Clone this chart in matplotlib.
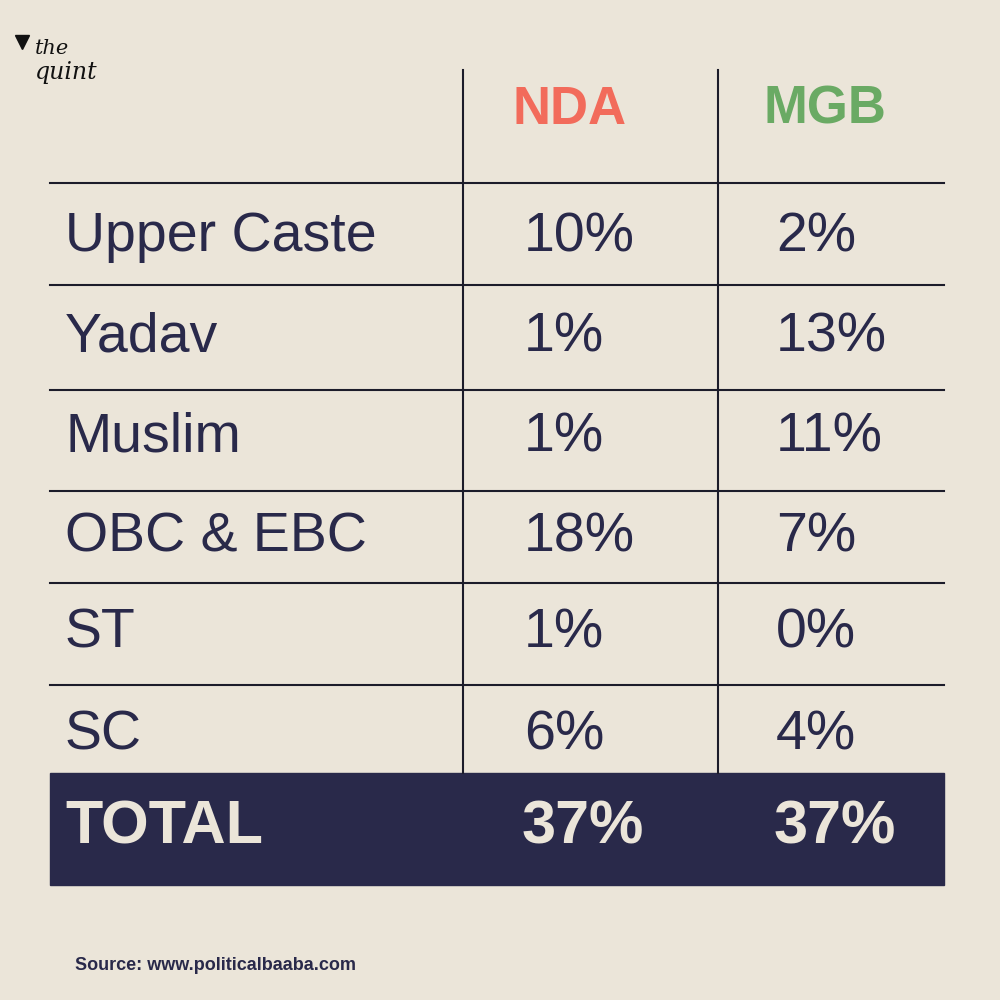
import matplotlib
matplotlib.use("Agg")
import matplotlib.pyplot as plt
from matplotlib.patches import Rectangle

categories = ["Upper Caste", "Yadav", "Muslim", "OBC & EBC", "ST", "SC"]
nda = ["10%", "1%", "1%", "18%", "1%", "6%"]
mgb = ["2%", "13%", "11%", "7%", "0%", "4%"]
total_nda, total_mgb = "37%", "37%"

BG = "#ebe5d9"
INK = "#29294a"
row_lines = [183, 285, 390, 491, 583, 685]
row_centers = [237, 337, 437, 537, 634, 735]

fig = plt.figure(figsize=(10, 10), dpi=100, facecolor=BG)
ax = fig.add_axes([0, 0, 1, 1])
ax.set_xlim(0, 1000)
ax.set_ylim(1000, 0)
ax.axis("off")
ax.set_facecolor(BG)

font = "Liberation Sans"
for y in row_lines:
    ax.plot([50, 944], [y, y], color="#1c1c2a", lw=1.5)
for x in [463, 718]:
    ax.plot([x, x], [70, 773], color="#1c1c2a", lw=1.5)

ax.text(570, 110, "NDA", color="#f26b5b", fontsize=38, fontweight="bold",
        ha="center", va="center", family=font)
ax.text(825, 110, "MGB", color="#6aaa64", fontsize=38, fontweight="bold",
        ha="center", va="center", family=font)

for cat, a, b, yc in zip(categories, nda, mgb, row_centers):
    ax.text(65, yc, cat, color=INK, fontsize=40, ha="left", va="center", family=font)
    ax.text(524, yc, a, color=INK, fontsize=40, ha="left", va="center", family=font)
    ax.text(776, yc, b, color=INK, fontsize=40, ha="left", va="center", family=font)

ax.add_patch(Rectangle((50, 773), 894, 112, color=INK))
ax.text(65, 828, "TOTAL", color=BG, fontsize=44, fontweight="bold", ha="left", va="center", family=font)
ax.text(522, 828, total_nda, color=BG, fontsize=44, fontweight="bold", ha="left", va="center", family=font)
ax.text(774, 828, total_mgb, color=BG, fontsize=44, fontweight="bold", ha="left", va="center", family=font)

ax.text(75, 965, "Source: www.politicalbaaba.com", color=INK, fontsize=13,
        fontweight="bold", ha="left", va="center", family=font)

# logo
ax.text(35, 48, "the", color="#111111", fontsize=15, style="italic", ha="left", va="center", family="DejaVu Serif")
ax.text(35, 72, "quint", color="#111111", fontsize=17, style="italic", ha="left", va="center", family="DejaVu Serif")
ax.plot([22], [42], marker="v", markersize=10, color="#111111")

fig.savefig("out.png", dpi=100, facecolor=BG)
